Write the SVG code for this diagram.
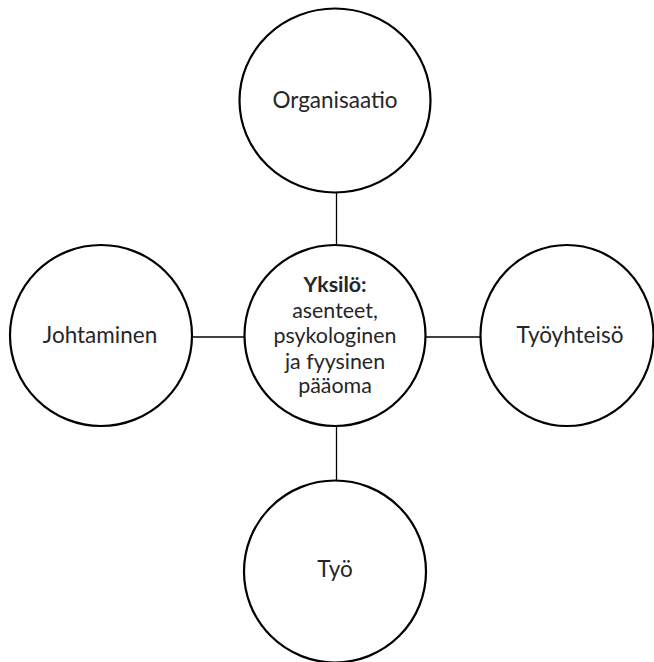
<svg xmlns="http://www.w3.org/2000/svg" width="654" height="662" viewBox="0 0 654 662">
<style>
.node{fill:#fff;stroke:#000;stroke-width:2.2}
.lbl{font-family:Lato,"Open Sans",sans-serif;font-size:22.5px;fill:#262626;text-anchor:middle}
.c{font-size:21.4px}
.b{font-weight:bold}
.conn{stroke:#000;stroke-width:1.3;fill:none}
</style>
<rect width="654" height="662" fill="#fff"/>
<g id="connectors">
<line class="conn" x1="336.5" y1="192" x2="336.5" y2="245"/>
<line class="conn" x1="192" y1="337" x2="245" y2="337"/>
<line class="conn" x1="426" y1="337" x2="481" y2="337"/>
<line class="conn" x1="336.5" y1="426" x2="336.5" y2="481"/>
</g>
<g id="organisaatio">
<ellipse class="node" cx="335" cy="100.5" rx="95.5" ry="92"/>
<text class="lbl" x="335" y="108">Organisaatio</text>
</g>
<g id="johtaminen">
<ellipse class="node" cx="101" cy="335.5" rx="91" ry="90.5"/>
<text class="lbl" x="100" y="343">Johtaminen</text>
</g>
<g id="yksilo">
<ellipse class="node" cx="335" cy="335.5" rx="90.5" ry="90.5"/>
<text class="lbl c b" x="335" y="292">Yksilö:</text>
<text class="lbl c" x="335" y="318">asenteet,</text>
<text class="lbl c" x="335" y="343">psykologinen</text>
<text class="lbl c" x="335" y="368.5">ja fyysinen</text>
<text class="lbl c" x="335" y="393">pääoma</text>
</g>
<g id="tyoyhteiso">
<ellipse class="node" cx="567" cy="335.5" rx="86.5" ry="90.5"/>
<text class="lbl" x="570" y="343">Työyhteisö</text>
</g>
<g id="tyo">
<ellipse class="node" cx="335" cy="571.5" rx="91" ry="91"/>
<text class="lbl" x="335" y="577">Työ</text>
</g>
</svg>
